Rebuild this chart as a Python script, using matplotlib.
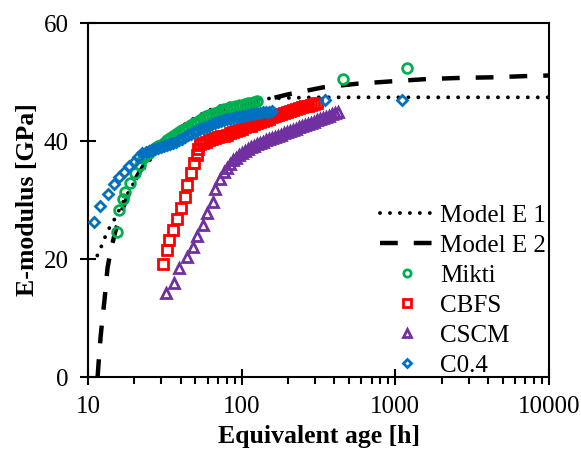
import numpy as np
import matplotlib
matplotlib.use('Agg')
import matplotlib.pyplot as plt
from matplotlib.ticker import NullFormatter

plt.rcParams['font.family'] = 'Liberation Serif'

###############################################################################
# Data
###############################################################################
# Model E 1 (dotted)
e1_age = [11.5, 11.6, 12.2, 13.0, 13.9, 15.0, 16.0, 17.2, 18.5, 20, 22, 25, 28,
          32, 37, 43, 50, 60, 70, 85, 100, 120, 150, 200, 300, 500, 1000, 3000, 10000]
e1_mod = [20.6, 21.0, 22.1, 23.9, 25.5, 26.9, 28.4, 30.0, 31.5, 33.0, 34.6, 36.6, 38.2,
          39.9, 41.5, 42.9, 44.0, 45.1, 45.8, 46.4, 46.8, 47.0, 47.2, 47.3, 47.4, 47.4,
          47.4, 47.4, 47.4]

# Model E 2 (dashed)
e2_age = [11.55, 11.8, 12.1, 12.4, 12.8, 13.4, 14.0, 15.0, 16.5, 18.5, 21, 25, 30, 38,
          50, 65, 85, 110, 140, 200, 340, 560, 930, 1600, 2700, 4400, 7000, 10000]
e2_mod = [0.0, 3.5, 7.0, 9.8, 13.0, 18.5, 21.2, 24.5, 28.0, 31.2, 34.2, 37.3, 39.7, 41.9,
          43.7, 44.9, 45.8, 46.4, 46.9, 47.9, 49.1, 49.7, 50.1, 50.5, 50.7, 50.8, 51.0, 51.1]

# Mikti
mikti_age = [15.4, 15.8, 16.8, 17.4, 18.8, 20.2, 21.8, 22.9,
             23.85, 24.94, 26.09, 27.29, 28.54, 29.85, 31.22, 32.66, 34.16, 35.73,
             37.37, 39.09, 40.88, 42.76, 44.73, 46.78, 48.93, 51.18, 53.54, 56.00,
             58.57, 61.26, 64.08, 67.02, 70.10, 73.33, 76.70, 80.22, 83.91, 87.77,
             91.80, 96.02, 100.45, 105.07, 109.90, 114.95, 120.24, 125.76,
             454, 1194]
mikti_mod = [24.5, 28.3, 30.1, 31.4, 32.8, 34.5, 35.9, 37.1,
             37.6, 38.0, 38.4, 38.8, 39.1, 39.4, 39.7, 40.1, 40.5, 40.9,
             41.2, 41.5, 41.8, 42.1, 42.4, 42.7, 43.0, 43.3, 43.6, 43.9,
             44.2, 44.4, 44.6, 44.8, 45.0, 45.2, 45.4, 45.5, 45.7, 45.8,
             45.9, 46.0, 46.1, 46.3, 46.4, 46.5, 46.6, 46.7,
             50.5, 52.3]

# CBFS
cbfs_age = [30.6, 32.5, 33.8, 35.9, 38.1, 40.1, 42.8, 44.3, 46.6, 49.2, 50.9, 52.2,
            53.54, 56.00, 58.57, 61.26, 64.08, 67.02, 70.10, 73.33, 76.70, 80.22,
            83.91, 87.77, 91.80, 96.02, 100.45, 105.07, 109.90, 114.95, 120.24,
            125.76, 131.55, 137.59, 143.92, 150.54, 157.46, 164.70, 172.27, 180.19,
            188.47, 197.14, 206.20, 215.68, 225.59, 235.96, 246.81, 258.15, 270.02,
            282.44, 295.42, 309.00]
cbfs_mod = [19.1, 21.6, 23.3, 24.9, 26.7, 28.6, 30.5, 32.5, 34.5, 36.2, 37.6, 38.6,
            39.5, 39.7, 39.9, 40.1, 40.3, 40.5, 40.6, 40.8, 40.9, 41.1,
            41.3, 41.5, 41.7, 41.9, 42.1, 42.3, 42.5, 42.6, 42.8,
            43.0, 43.2, 43.4, 43.6, 43.8, 44.0, 44.2, 44.4, 44.6,
            44.8, 45.0, 45.1, 45.3, 45.5, 45.6, 45.8, 45.9, 46.0,
            46.1, 46.3, 46.4]

# CSCM
cscm_age = [32.0, 36.5, 39.3, 43.9, 48.4, 51.4, 55.7, 59.1, 64.7, 67.0, 72.2, 76.7,
            80.22, 83.91, 87.77, 91.80, 96.02, 100.45, 105.07, 109.90, 114.95,
            120.24, 125.76, 131.55, 137.59, 143.92, 150.54, 157.46, 164.70, 172.27,
            180.19, 188.47, 197.14, 206.20, 215.68, 225.59, 235.96, 246.81, 258.15,
            270.02, 282.44, 295.42, 309.00, 323.21, 338.06, 353.6, 369.8, 386.8,
            404.6, 423.2]
cscm_mod = [14.2, 16.0, 18.5, 20.4, 22.1, 23.9, 25.8, 27.8, 29.7, 31.8, 33.6, 34.8,
            35.5, 36.1, 36.7, 37.2, 37.6, 38.0, 38.3, 38.6, 38.9,
            39.2, 39.5, 39.7, 39.9, 40.1, 40.3, 40.5, 40.7, 40.9,
            41.1, 41.3, 41.5, 41.7, 41.9, 42.1, 42.3, 42.5, 42.7,
            42.9, 43.1, 43.3, 43.5, 43.7, 43.9, 44.1, 44.3, 44.5,
            44.7, 44.9]

# C0.4
c04_age = [10.99, 11.97, 13.4, 14.8, 16.0, 17.2, 18.6, 20.0, 21.2, 22.5,
           23.85, 24.94, 26.09, 27.29, 28.54, 29.85, 31.22, 32.66, 34.16, 35.73,
           37.37, 39.09, 40.88, 42.76, 44.73, 46.78, 48.93, 51.18, 53.54, 56.00,
           58.57, 61.26, 64.08, 67.02, 70.10, 73.33, 76.70, 80.22, 83.91, 87.77,
           91.80, 96.02, 100.45, 105.07, 109.90, 114.95, 120.24, 125.76, 131.55,
           137.59, 143.92, 150.54, 157.46,
           348, 1099]
c04_mod = [26.3, 28.9, 31.0, 32.7, 33.9, 34.8, 35.8, 36.5, 37.3, 37.9,
           38.1, 38.3, 38.5, 38.6, 38.8, 38.9, 39.1, 39.3, 39.5, 39.7,
           39.9, 40.2, 40.4, 40.7, 41.0, 41.2, 41.5, 41.7, 42.0, 42.2,
           42.4, 42.6, 42.8, 43.0, 43.2, 43.4, 43.5, 43.7, 43.8, 43.9,
           44.0, 44.1, 44.2, 44.3, 44.4, 44.5, 44.6, 44.7, 44.8,
           44.9, 45.0, 45.0, 45.1,
           47.0, 47.0]

###############################################################################
# Figure
###############################################################################
fig = plt.figure(figsize=(5.81, 4.57), dpi=100)
ax = fig.add_axes([88/581, 80/457, 461/581, 354/457])

ax.plot(e1_age, e1_mod, color='black', lw=2.8, linestyle=(0, (0.01, 2.55)),
        dash_capstyle='round', label='Model E 1', zorder=2)
ax.plot(e2_age, e2_mod, color='black', lw=3.2, linestyle=(0, (4.0, 3.6)),
        dash_capstyle='butt', label='Model E 2', zorder=2)

ax.plot(mikti_age, mikti_mod, 'o', ms=7, mfc='none', mec='#00B050', mew=2.0,
        label='Mikti', zorder=3)
ax.plot(cbfs_age, cbfs_mod, 's', ms=7, mfc='none', mec='#FF0000', mew=2.0,
        label='CBFS', zorder=3)
ax.plot(cscm_age, cscm_mod, '^', ms=7.8, mfc='none', mec='#7030A0', mew=2.0,
        label='CSCM', zorder=3)
ax.plot(c04_age, c04_mod, 'D', ms=5.0, mfc='none', mec='#0070C0', mew=2.0,
        label='C0.4', zorder=3)

ax.set_xscale('log')
ax.set_xlim(10, 10000)
ax.set_ylim(0, 60)
ax.set_xticks([10, 100, 1000, 10000])
ax.set_xticklabels(['10', '100', '1000', '10000'])
ax.xaxis.set_minor_formatter(NullFormatter())
ax.set_yticks([0, 20, 40, 60])

for s in ax.spines.values():
    s.set_linewidth(1.5)
ax.tick_params(axis='both', which='major', direction='inout', length=12, width=1.5,
               labelsize=18)
ax.tick_params(axis='y', which='major', pad=8)
ax.tick_params(axis='x', which='major', pad=8)
ax.tick_params(axis='x', which='minor', direction='out', length=5, width=1.5)

ax.set_xlabel('Equivalent age [h]', fontsize=18.5, fontweight='bold', labelpad=5)
ax.set_ylabel('E-modulus [GPa]', fontsize=18.5, fontweight='bold', labelpad=3)

ax.legend(loc='lower left', bbox_to_anchor=(0.633, 0.0), frameon=False,
          borderaxespad=0, borderpad=0,
          fontsize=18, handlelength=2.2, handletextpad=0.2, labelspacing=0.3,
          markerscale=0.75)

fig.savefig('out.png', dpi=100)
